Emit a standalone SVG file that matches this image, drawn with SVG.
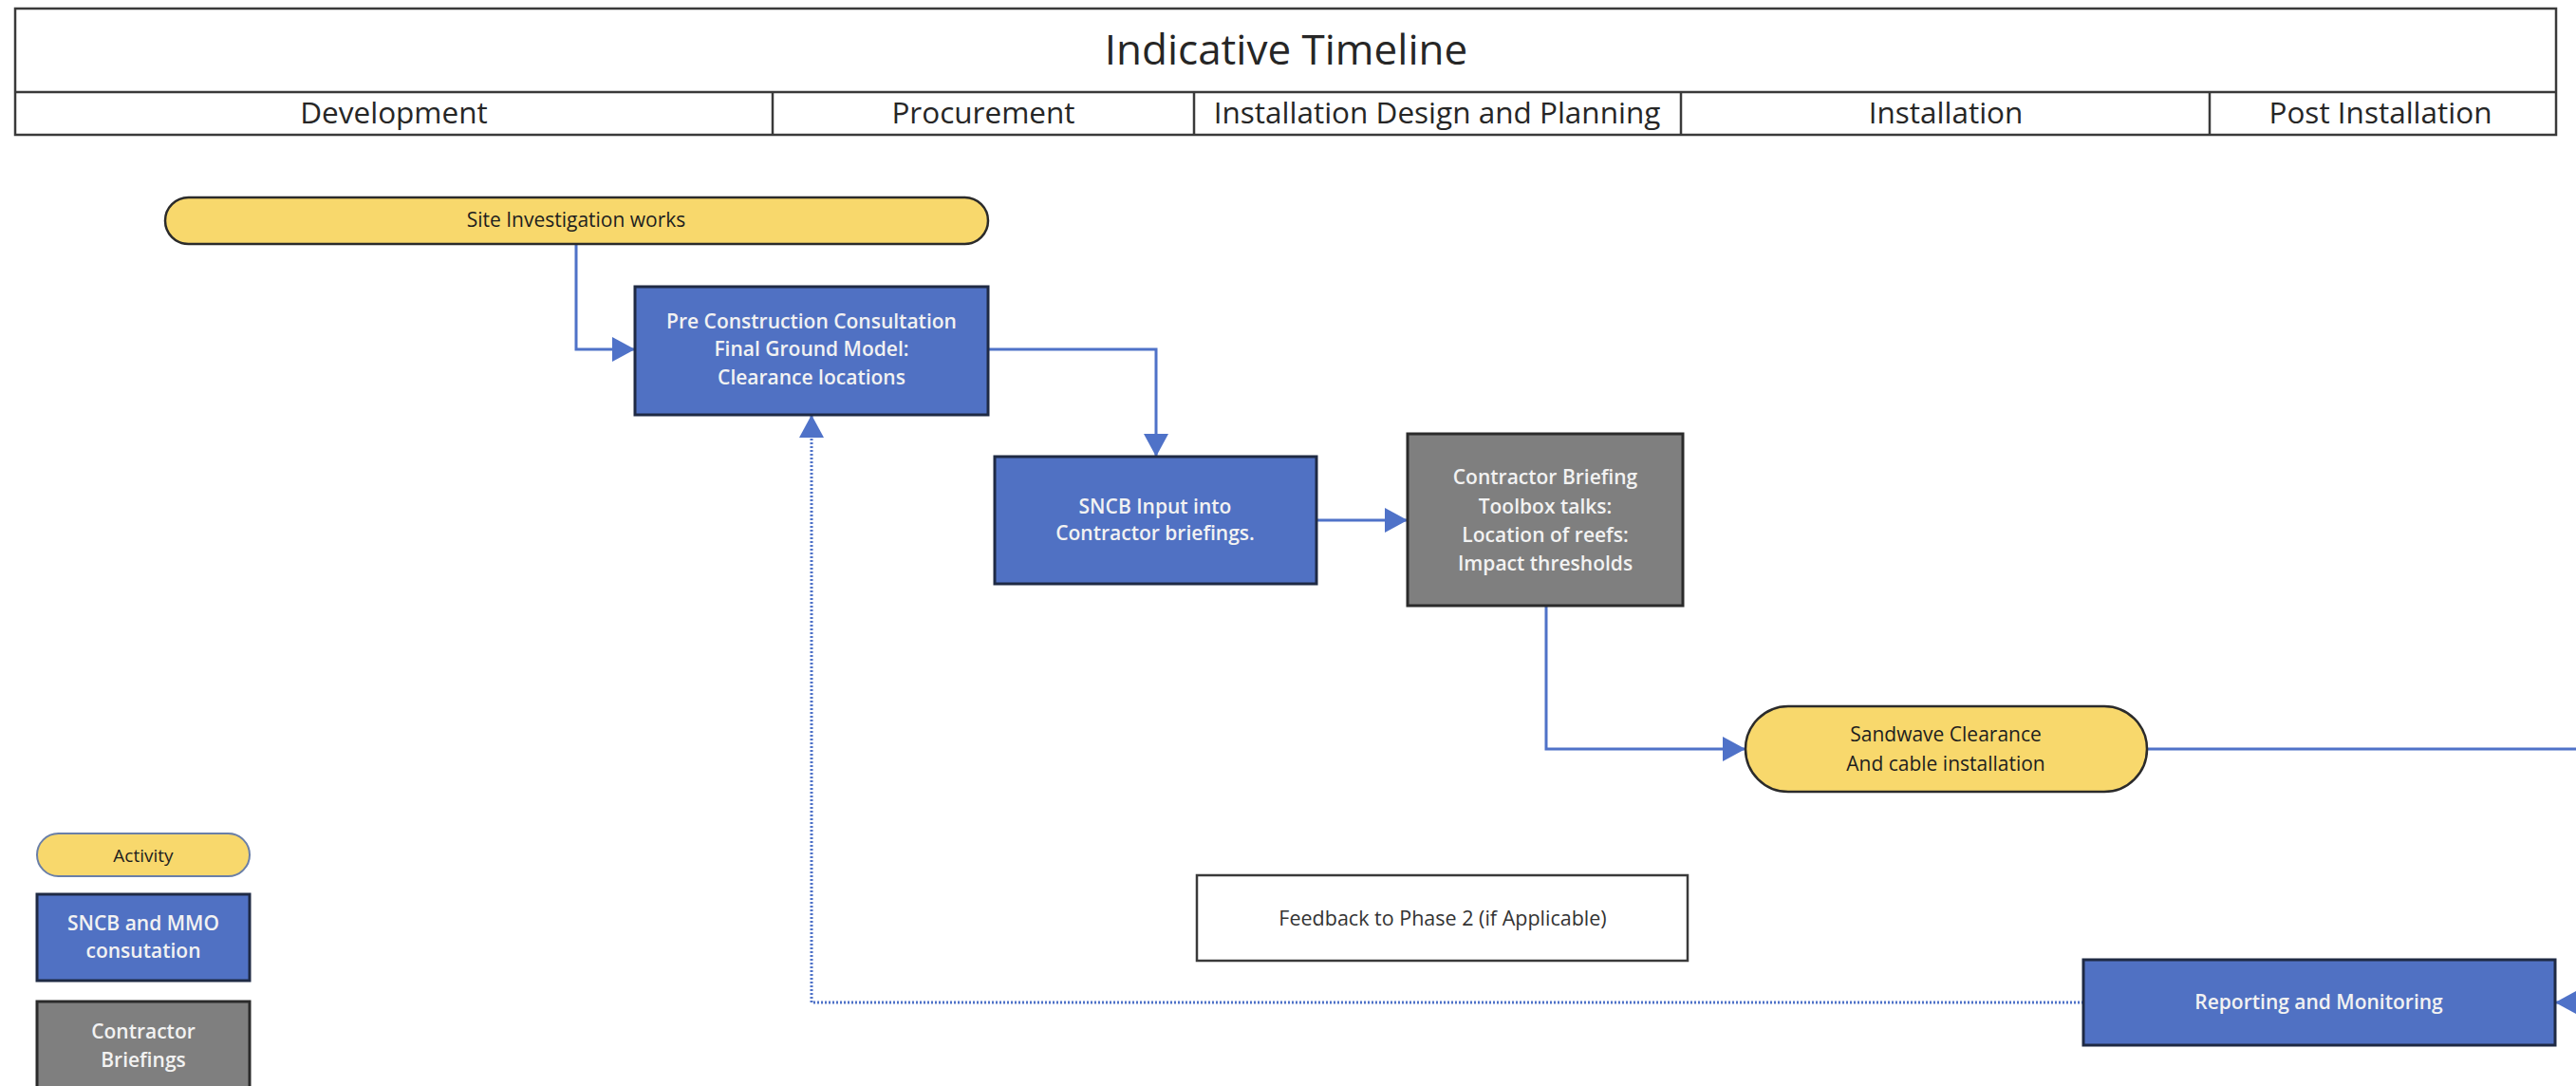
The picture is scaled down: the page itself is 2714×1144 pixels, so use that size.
<svg xmlns="http://www.w3.org/2000/svg" width="2714" height="1144" viewBox="0 0 2714 1144">
<style>
  .hdr { fill: #ffffff; stroke: #3a3a3a; stroke-width: 2.5; }
  .hline { stroke: #3a3a3a; stroke-width: 2.5; }
  .title { font-family: "Open Sans", "Liberation Sans", sans-serif; font-size: 44px; fill: #262626; text-anchor: middle; }
  .phase { font-family: "Open Sans", "Liberation Sans", sans-serif; font-size: 31.5px; fill: #262626; text-anchor: middle; }
  .act { fill: #f8d86c; stroke: #2b2b2b; stroke-width: 2.5; }
  .sncb { fill: #5071c3; stroke: #1f2a44; stroke-width: 3; }
  .con { fill: #7f7f7f; stroke: #2b2b2b; stroke-width: 3; }
  .plain { fill: #ffffff; stroke: #3a3a3a; stroke-width: 2.5; }
  .tw { font-family: "Open Sans", "Liberation Sans", sans-serif; font-size: 21px; font-weight: 600; fill: #f2f2f2; text-anchor: middle; }
  .td { font-family: "Open Sans", "Liberation Sans", sans-serif; font-size: 21px; fill: #1e1e1e; text-anchor: middle; }
  .tg { font-family: "Open Sans", "Liberation Sans", sans-serif; font-size: 21.5px; fill: #333333; text-anchor: middle; }
  .edge { fill: none; stroke: #4f72c8; stroke-width: 3; }
  .dot { fill: none; stroke: #4f72c8; stroke-width: 3; stroke-dasharray: 2 2; }
</style>
<defs>
  <marker id="arr" markerUnits="userSpaceOnUse" markerWidth="24" markerHeight="26" refX="23" refY="13" orient="auto">
    <path d="M0,0 L24,13 L0,26 Z" fill="#4f72c8"/>
  </marker>
</defs>
<rect width="2714" height="1144" fill="#ffffff"/>

<g id="header">
  <rect class="hdr" x="16" y="9" width="2677" height="133"/>
  <line class="hline" x1="16" y1="97" x2="2693" y2="97"/>
  <line class="hline" x1="814" y1="97" x2="814" y2="142"/>
  <line class="hline" x1="1258" y1="97" x2="1258" y2="142"/>
  <line class="hline" x1="1771" y1="97" x2="1771" y2="142"/>
  <line class="hline" x1="2328" y1="97" x2="2328" y2="142"/>
  <text class="title" x="1355" y="68">Indicative Timeline</text>
  <text class="phase" x="415" y="130">Development</text>
  <text class="phase" x="1036" y="130">Procurement</text>
  <text class="phase" x="1514" y="130">Installation Design and Planning</text>
  <text class="phase" x="2050" y="130">Installation</text>
  <text class="phase" x="2508" y="130">Post Installation</text>
</g>

<g id="connectors">
  <path class="edge" d="M607,257 V368 H668" marker-end="url(#arr)"/>
  <path class="edge" d="M1041,368 H1218 V480" marker-end="url(#arr)"/>
  <path class="edge" d="M1387,548 H1482" marker-end="url(#arr)"/>
  <path class="edge" d="M1629,638 V789 H1838" marker-end="url(#arr)"/>
  <path class="edge" d="M2262,789 H2714"/>
  <path class="edge" d="M2730,1056 H2693" marker-end="url(#arr)"/>
  <path class="dot" d="M2195,1056 H855 V438" marker-end="url(#arr)"/>
</g>

<g id="site-investigation">
  <rect class="act" x="174" y="208" width="867" height="49" rx="24.5"/>
  <text class="td" x="607" y="239">Site Investigation works</text>
</g>

<g id="pre-construction">
  <rect class="sncb" x="669" y="302" width="372" height="135"/>
  <text class="tw" x="855" y="346">Pre Construction Consultation</text>
  <text class="tw" x="855" y="375">Final Ground Model:</text>
  <text class="tw" x="855" y="405">Clearance locations</text>
</g>

<g id="sncb-input">
  <rect class="sncb" x="1048" y="481" width="339" height="134"/>
  <text class="tw" x="1217" y="541">SNCB Input into</text>
  <text class="tw" x="1217" y="569">Contractor briefings.</text>
</g>

<g id="contractor-briefing">
  <rect class="con" x="1483" y="457" width="290" height="181"/>
  <text class="tw" x="1628" y="510">Contractor Briefing</text>
  <text class="tw" x="1628" y="541">Toolbox talks:</text>
  <text class="tw" x="1628" y="571">Location of reefs:</text>
  <text class="tw" x="1628" y="601">Impact thresholds</text>
</g>

<g id="sandwave">
  <rect class="act" x="1839" y="744" width="423" height="90" rx="45"/>
  <text class="td" x="2050" y="781">Sandwave Clearance</text>
  <text class="td" x="2050" y="812">And cable installation</text>
</g>

<g id="feedback">
  <rect class="plain" x="1261" y="922" width="517" height="90"/>
  <text class="tg" x="1520" y="975">Feedback to Phase 2 (if Applicable)</text>
</g>

<g id="reporting">
  <rect class="sncb" x="2195" y="1011" width="497" height="90"/>
  <text class="tw" x="2443" y="1063">Reporting and Monitoring</text>
</g>

<g id="legend-activity">
  <rect x="39" y="878" width="224" height="45" rx="22.5" fill="#f8d86c" stroke="#6a7fa8" stroke-width="2"/>
  <text class="td" x="151" y="908" style="font-size:19px">Activity</text>
</g>
<g id="legend-sncb">
  <rect class="sncb" x="39" y="942" width="224" height="91"/>
  <text class="tw" x="151" y="980">SNCB and MMO</text>
  <text class="tw" x="151" y="1009">consutation</text>
</g>
<g id="legend-contractor">
  <rect class="con" x="39" y="1055" width="224" height="100"/>
  <text class="tw" x="151" y="1094">Contractor</text>
  <text class="tw" x="151" y="1124">Briefings</text>
</g>
</svg>
